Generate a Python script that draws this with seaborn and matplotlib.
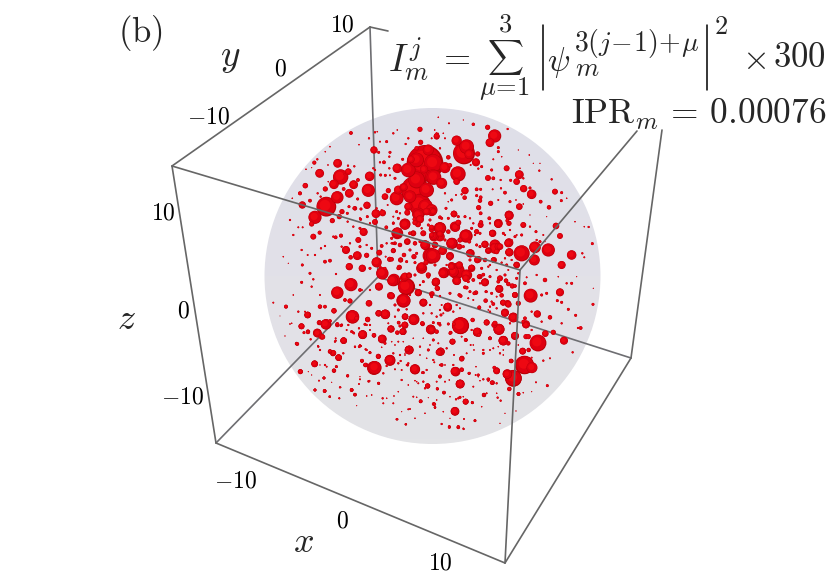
import numpy as np
import pandas as pd
import seaborn as sns
import matplotlib.pyplot as plt
from matplotlib.patches import Circle
from matplotlib.colors import LinearSegmentedColormap

# spheres, as (x, y, diameter) inside each crop, 3 units = 1 pixel
upper_left = [
    (273,99,10),(342,150,20),(163,188,11),(233,190,24),(179,220,24),(242,231,42),(265,215,18),(222,253,26),
    (136,257,15),(281,254,24),(329,229,26),(325,271,36),(268,280,24),(232,292,34),(120,280,11),(199,320,54),
    (127,315,20),(165,352,36),(155,372,14),(321,316,20),(285,325,12),(348,341,24),(368,339,18),(345,366,16),
    (311,396,22),(295,420,16),(258,450,22),(292,467,24),(160,410,16),(179,398,11),(227,412,10),(243,407,11),
    (350,487,28),(320,466,14),(358,458,16),(365,438,10),(412,400,32),(379,382,10),(435,374,28),(410,295,38),
    (375,290,18),(385,272,14),(412,205,26),(430,262,22),(442,425,14),(400,452,12),(389,478,14),(422,480,12),
    (268,500,20),(307,505,20),(485,500,24),(514,468,40),(497,436,26),(522,410,26),(515,382,14),(460,400,12),
    (474,373,16),(463,358,10),(495,190,100),(505,150,30),(453,178,20),(519,231,42),(470,145,12),(492,208,22),
    (465,270,76),(480,315,60),(445,320,22),(432,262,20),(497,320,40),(516,335,24),(475,345,30),(482,127,14),
    (480,88,14),(530,110,16),(345,97,6),(352,95,4),(297,134,4),(327,115,6),(380,125,8),(400,100,6),(412,90,4),
    (360,125,5),(390,157,8),(356,157,8),(345,210,6),(340,205,6),(360,187,6),(372,187,10),(388,170,6),(388,205,6),
    (362,225,8),(376,226,8),(390,226,5),(405,235,8),(428,178,8),(437,132,6),(445,115,6),(210,140,4),(196,155,4),
    (172,178,6),(138,208,4),(155,203,3),(204,195,4),(264,197,6),(283,199,6),(253,223,4),(294,240,10),(196,267,14),
    (251,267,10),(173,280,6),(182,290,6),(150,302,10),(97,295,4),(205,245,4),(293,297,8),(267,320,8),(283,325,10),
    (303,327,8),(322,350,8),(302,358,8),(262,340,8),(246,335,14),(238,350,14),(217,362,14),(90,360,6),(115,382,5),
    (128,382,5),(100,405,6),(220,410,6),(195,438,6),(183,445,6),(125,450,6),(165,465,6),(143,465,5),(210,482,10),
    (195,485,10),(127,495,8),(70,470,4),(85,490,3),(270,430,6),(245,440,6),(272,472,12),(300,440,8),(320,435,6),
    (335,445,8),(380,430,6),(400,430,8),(395,415,8),(377,470,5),(330,505,8),(415,505,10),(375,505,8),(360,500,8),
    (300,385,8),(330,370,6),(280,380,6),(300,355,6),(263,365,6),(383,315,5),(365,330,5),(420,340,6),(400,350,5),
    (350,325,6),(400,370,8),
    (470,240,46),(445,210,40),(520,190,50),(470,180,40),(500,270,40),(450,290,34),(415,270,24),
]
upper_right = [
    (194,108,36),(180,128,24),(173,82,14),(130,73,9),(233,87,6),(20,108,16),(80,122,28),(110,140,40),(102,160,60),
    (118,163,26),(143,162,14),(138,187,22),(55,172,12),(45,203,30),(60,196,12),(230,205,16),(268,224,24),(174,234,16),
    (84,222,42),(80,245,18),(12,232,40),(35,250,30),(105,272,20),(260,245,18),(281,266,20),(300,264,8),(305,283,26),
    (375,275,16),(395,278,8),(394,302,8),(332,305,10),(357,322,12),(268,320,18),(182,310,14),(146,323,14),(104,293,12),
    (150,302,12),(5,330,32),(72,342,18),(48,325,8),(238,347,24),(232,362,10),(205,372,22),(153,367,12),(280,375,16),
    (378,378,18),(390,408,16),(487,431,8),(476,381,6),(463,380,4),(425,465,26),(457,460,6),(463,472,5),(395,495,22),
    (355,450,36),(315,442,32),(275,460,44),(313,480,30),(260,495,16),(238,457,22),(235,430,22),(195,445,30),(205,440,20),
    (165,433,18),(175,452,14),(187,400,18),(108,408,34),(77,382,24),(30,385,32),(30,410,26),(67,430,30),(88,440,16),
    (122,460,22),(60,470,18),(10,468,40),(145,478,18),(190,480,14),(165,480,12),(65,497,20),(88,495,20),(125,503,16),
    (30,352,10),(5,405,14),(100,440,8),(150,440,8),(220,400,8),(255,410,8),(275,405,8),(300,380,6),(318,395,8),
    (330,425,8),(118,425,10),(135,405,6),(125,385,8),(205,143,8),(205,155,8),(215,170,4),(190,178,5),(155,200,8),
    (145,206,6),(122,195,5),(185,210,8),(190,235,10),(212,240,6),(242,241,8),(213,265,6),(225,278,10),(140,268,10),
    (152,268,8),(140,287,8),(152,292,10),(188,268,5),(205,300,5),(240,305,8),(258,300,4),(280,312,4),(65,300,8),
    (45,280,6),(95,283,6),(78,285,5),(55,305,4),(20,100,6),(25,52,4),(57,70,5),(45,115,5),(14,90,4),(5,115,5),
    (40,100,4),(30,145,6),(25,165,6),(298,165,4),(328,212,6),(365,238,6),(265,150,3),(310,190,3),(330,190,3),
    (280,235,6),(270,205,4),(435,365,4),(350,350,3),(410,295,4),(300,345,3),(340,405,5),(320,420,6),(345,425,3),
    (25,100,3),(100,60,3),(60,480,4),(180,495,6),(215,488,6),(245,420,5),(280,440,5),
]
lower_left = [
    (273,44,36),(232,68,34),(367,10,34),(398,32,30),(440,50,46),(432,92,36),(357,50,22),(392,77,20),(475,68,20),
    (491,98,20),(527,37,22),(435,20,22),(447,16,16),(327,100,18),(278,141,36),(376,133,26),(356,130,16),(461,150,28),
    (199,163,28),(143,135,18),(124,169,16),(173,190,22),(188,201,14),(144,185,12),(78,110,11),(180,110,12),(195,110,10),
    (222,122,14),(255,90,10),(270,93,14),(323,148,14),(308,194,24),(367,207,24),(342,196,12),(393,177,18),(430,185,18),
    (436,140,16),(435,165,18),(513,179,26),(487,160,12),(447,240,24),(390,271,28),(342,294,38),(465,298,28),(251,212,18),
    (236,263,18),(219,250,16),(210,243,10),(164,282,18),(112,222,10),(121,305,14),(355,259,14),(318,285,12),(306,272,10),
    (229,290,8),(222,302,12),(192,324,8),(177,332,5),(263,318,8),(165,360,8),(194,363,10),(240,352,6),(275,360,10),
    (285,374,10),(209,380,7),(238,385,5),(356,340,8),(326,334,7),(297,342,5),(368,385,6),(410,448,6),(438,463,6),
    (482,394,10),(522,402,10),(525,412,7),(503,348,14),(495,355,6),(537,247,18),(420,168,8),(415,120,8),(440,118,6),
    (405,105,8),(515,72,14),(298,230,8),(285,231,6),(320,240,6),(330,248,7),(227,212,6),(180,240,5),(174,228,5),
    (152,208,6),(232,162,10),(243,167,8),(180,158,10),(280,188,7),(265,165,6),(297,175,6),(300,60,10),(160,28,6),
    (155,50,6),(125,37,8),(180,75,5),(100,75,4),(40,98,5),(95,160,4),(60,138,2),(460,380,5),(470,382,4),(445,418,5),
    (505,383,3),(475,340,5),(440,285,5),(415,280,6),(425,300,5),(500,300,6),(487,308,7),(520,270,6),(505,240,8),
    (480,230,6),(520,210,8),(415,215,5),(400,250,6),(530,335,5),(470,335,4),(540,165,8),(540,120,6),(490,130,6),
    (505,20,10),(150,10,8),(228,12,6),(305,60,6),(330,60,6),(320,165,6),(395,215,4),(365,232,4),(435,250,3),
]
lower_right = [
    (92,167,46),(302,77,38),(390,67,22),(489,103,8),(345,30,12),(322,132,20),(360,142,12),(250,143,26),(225,128,22),
    (233,100,18),(219,98,16),(255,75,16),(208,56,20),(247,48,14),(229,32,10),(210,25,16),(165,37,20),(147,20,12),
    (160,14,10),(81,33,22),(108,25,20),(70,5,30),(40,10,26),(18,36,22),(22,55,14),(110,53,10),(53,112,24),(5,75,8),
    (88,75,10),(133,70,10),(168,65,8),(148,113,10),(170,157,16),(207,178,30),(193,165,16),(142,186,24),(147,195,10),
    (220,212,26),(235,220,12),(255,198,22),(295,200,14),(324,219,46),(346,191,18),(370,187,14),(402,212,22),(452,174,10),
    (444,174,6),(437,136,8),(288,165,18),(280,155,10),(278,243,18),(296,240,12),(285,285,50),(306,293,30),(250,325,46),
    (232,313,24),(200,303,18),(193,293,10),(243,273,12),(77,305,26),(95,299,12),(95,267,14),(32,245,22),(68,215,16),
    (108,210,10),(180,205,10),(5,180,20),(20,185,12),(62,188,10),(25,160,8),(91,342,24),(186,338,12),(175,328,10),
    (162,375,12),(107,395,16),(127,398,8),(75,424,24),(14,403,8),(15,412,6),(22,356,8),(42,368,10),(30,318,8),(58,330,4),
    (137,315,5),(117,310,8),(145,320,4),(125,180,6),(58,470,8),(85,470,8),(101,477,6),(135,452,8),(35,462,6),(265,372,10),
    (280,368,4),(203,383,6),(305,365,3),(352,347,8),(318,337,5),(305,263,5),(340,272,6),(360,265,5),(428,247,6),(395,160,6),
    (335,155,6),(305,125,6),(285,145,10),(305,180,6),(415,118,8),(395,97,8),(382,92,8),(425,40,8),(410,40,6),(490,55,3),
    (350,70,8),(335,75,8),(285,40,10),(320,15,6),(385,20,4),(440,20,3),(290,22,5),(200,115,6),(185,95,6),(175,120,4),
    (150,40,6),(130,90,5),(115,85,4),(90,115,5),(70,125,6),(40,130,5),(20,140,6),(5,130,6),(70,155,4),(160,240,6),
    (180,240,5),(130,225,4),(220,255,4),(205,230,4),(240,160,6),(220,240,4),(45,285,4),(30,285,6),(72,255,5),(130,350,5),
    (150,332,4),(200,340,6),(100,380,4),(60,380,4),(85,385,6),
]
centre = [
    (45,42,30),(22,68,28),(85,12,34),(110,5,20),(130,5,18),(90,28,22),(75,38,14),(52,8,16),(150,55,34),(125,58,16),
    (130,78,22),(150,72,18),(195,50,28),(205,38,16),(192,12,18),(228,78,36),(210,90,14),(185,100,30),(105,105,26),
    (135,105,18),(122,137,44),(158,122,24),(95,175,30),(108,158,14),(162,188,30),(200,183,44),(185,170,18),(230,195,30),
    (245,175,20),(180,138,22),(240,130,22),(262,150,18),(285,103,20),(315,105,30),(330,110,18),(295,122,18),(320,125,14),
    (357,98,24),(358,127,22),(380,165,18),(312,150,16),(285,217,22),(200,212,24),(138,215,22),(142,235,14),(12,210,34),
    (48,230,44),(42,204,22),(58,198,14),(85,248,18),(40,272,38),(100,278,22),(5,258,18),(174,290,22),(268,292,10),
    (328,237,22),(355,222,12),(348,212,12),(375,228,10),(375,255,16),(335,256,12),(340,278,16),(355,283,18),(385,280,14),
    (287,272,12),(310,282,10),(272,45,16),(308,70,20),(325,40,24),(357,15,24),(357,40,14),(298,25,10),(272,10,10),
    (10,122,14),(30,105,12),(15,100,10),(52,95,18),(70,70,16),(60,70,10),(100,70,16),(75,100,12),(72,140,14),(42,135,12),
    (32,150,14),(5,148,12),(80,130,8),(28,172,14),(50,155,8),(75,158,8),(115,195,14),(75,195,8),(135,165,8),(170,165,6),
    (240,150,8),(260,105,8),(270,110,6),(225,232,10),(240,245,8),(258,248,12),(212,258,10),(180,250,8),(150,258,6),
    (128,250,10),(125,260,8),(305,250,8),(290,245,6),(270,200,14),(250,210,10),(235,215,8),(325,215,10),(300,200,8),
    (275,175,8),(320,180,6),(345,195,8),(380,205,8),(385,190,6),(350,165,8),(365,150,6),(345,145,6),(295,170,6),(175,65,12),
    (225,20,8),(240,25,6),(205,20,8),(175,25,8),(155,25,8),(260,65,14),(270,70,8),(250,40,6),(165,90,8),(90,95,8),(115,45,8),
    (120,30,8),(95,55,6),(25,25,8),(10,38,6),(20,5,8),(10,70,6),(5,100,6),(60,120,8),(100,215,8),(90,225,6),(60,255,6),
    (120,285,6),(155,285,5),(200,285,6),(235,265,5),(355,180,5),(300,290,6),(320,260,5),(360,60,6),(380,75,5),(345,75,6),
    (300,40,6),
]
bottom_left = [
    (217,20,36),(137,43,28),(112,69,24),(83,15,18),(65,49,16),(125,80,16),(118,38,14),(150,33,10),(162,3,14),(172,45,12),
    (185,45,8),(84,67,10),(72,68,8),(50,101,10),(104,161,18),(62,185,12),(248,74,24),(191,92,18),(282,76,12),(306,87,22),
    (333,57,20),(352,68,12),(369,65,18),(375,46,18),(375,20,18),(356,38,10),(316,13,26),(296,10,18),(263,29,14),(255,43,8),
    (230,25,12),(345,20,6),(285,173,36),(330,151,30),(295,140,12),(256,165,12),(246,153,10),(176,143,18),(160,129,16),
    (150,125,12),(162,182,10),(170,170,6),(203,197,8),(132,204,8),(105,240,8),(134,243,10),(215,240,10),(225,254,8),
    (178,265,5),(150,260,5),(296,220,8),(352,328,6),(268,213,6),(240,208,5),(383,118,14),(383,165,8),(362,153,6),(310,190,6),
    (320,168,6),(270,128,8),(257,118,6),(243,108,6),(225,110,6),(165,95,6),(167,85,5),(120,120,6),(115,110,6),(85,185,3),
    (95,195,3),(135,165,6),(140,170,5),(190,130,6),(120,165,3),(215,65,8),(222,70,6),(315,100,8),(345,105,4),(325,40,5),
    (270,45,6),(270,60,5),(30,42,4),(55,5,6),(75,5,5),(200,60,5),(240,105,5),(340,280,5),(310,280,5),(275,255,4),(355,245,4),
    (385,225,4),(260,258,4),(182,232,4),(240,200,3),(360,135,6),(345,178,5),(320,265,4),(342,258,4),(155,217,3),(15,78,3),
    (230,287,3),
]
bottom_right = [
    (181,47,46),(42,28,30),(16,20,16),(14,45,18),(8,65,18),(92,58,26),(68,42,12),(28,120,24),(122,125,22),(45,178,26),
    (165,184,24),(180,222,24),(197,275,16),(165,304,22),(232,67,24),(260,38,16),(297,58,30),(285,40,14),(310,92,26),
    (345,77,20),(378,43,22),(340,22,26),(315,9,20),(378,80,14),(372,165,50),(341,205,44),(322,192,26),(290,182,18),
    (334,153,12),(368,124,18),(385,120,8),(186,145,14),(157,95,16),(218,30,12),(162,42,10),(123,15,8),(197,90,10),(270,85,10),
    (252,255,10),(186,180,10),(120,200,10),(83,228,14),(112,237,8),(132,247,8),(62,274,10),(100,282,8),(105,293,6),(217,278,8),
    (328,237,12),(356,252,10),(180,262,8),(168,268,6),(302,272,6),(148,352,8),(175,352,10),(17,343,6),(225,332,6),(192,327,5),
    (150,325,3),(30,297,5),(190,355,4),(300,340,3),(348,303,3),(265,212,6),(278,218,12),(250,208,6),(208,190,8),(235,195,8),
    (135,215,5),(25,160,6),(70,188,8),(5,210,6),(45,212,4),(70,215,6),(125,165,10),(103,157,5),(80,145,4),(60,135,4),(15,135,4),
    (90,105,4),(115,100,5),(140,115,6),(200,130,5),(250,130,8),(300,130,6),(280,115,5),(355,105,4),(185,80,5),(212,105,5),
    (225,75,4),(160,165,6),(10,95,4),(40,85,4),(70,85,4),(100,38,8),(120,40,6),(150,70,8),(145,42,8),(222,120,4),(325,100,6),
    (270,5,6),(228,170,4),(260,250,5),(290,250,4),(110,270,4),(75,310,4),(45,325,4),(130,305,4),(245,290,4),(315,310,3),(5,305,3),
]

# box edges in picture pixels
back_edges = [[(370,27),(378,277)], [(216,443),(378,277)], [(378,277),(631,358)]]
front_edges = [[(172,166),(370,27)], [(370,27),(388,31)], [(172,166),(520,270)], [(172,166),(216,443)],
               [(216,443),(505,563)], [(520,270),(505,563)], [(520,270),(637,131)], [(631,358),(662,130)],
               [(631,358),(505,563)]]

tick_text = ['$-10$', '$0$', '$10$', '$-10$', '$0$', '$10$', '$-10$', '$0$', '$10$']
tick_x = [235, 342, 440, 208, 280, 342, 182, 183, 163]
tick_y = [481, 520, 562, 117, 68, 25, 396, 310, 212]

frames = []
for pts, ox, oy in [(upper_left, 260, 100), (upper_right, 430, 100), (lower_left, 260, 270), (lower_right, 430, 270),
                    (centre, 390, 210), (bottom_left, 280, 310), (bottom_right, 400, 310)]:
    f = pd.DataFrame(pts, columns=['x', 'y', 'd'])
    f['x'] = ox + f['x'] / 3
    f['y'] = oy + f['y'] / 3
    f['d'] = f['d'] / 3 * 1.1
    frames.append(f)
spheres = pd.concat(frames, ignore_index=True)
spheres = spheres.sort_values('d', ascending=False).reset_index(drop=True)

# three stacked discs per sphere, so that they still read as shaded balls when they overlap
layers = []
for name, scale, shift in [('rim', 1.0, 0.0), ('body', 0.92, -0.015), ('glow', 0.55, -0.07)]:
    l = spheres.copy()
    l['x'] = l['x'] + shift * l['d']
    l['y'] = l['y'] + shift * l['d']
    l['d'] = l['d'] * scale
    l['layer'] = name
    l['rank'] = spheres.index
    layers.append(l)
balls = pd.concat(layers).sort_values('rank', kind='stable')

sns.set_theme(style='white')
plt.rcParams['mathtext.fontset'] = 'cm'
fig = plt.figure(figsize=(8.3, 5.87), dpi=100)
ax = fig.add_axes([0, 0, 1, 1])

# shaded sphere background
cmap = LinearSegmentedColormap.from_list('ball', ['#dfdfe9', '#e2e1e8', '#e3e3e6'])
im = ax.imshow(np.linspace(0, 1, 64).reshape(-1, 1), cmap=cmap, aspect='auto', extent=(264, 601, 444, 108), zorder=1)
disc = Circle((432.5, 276), 168, transform=ax.transData, fc='none', ec='none')
ax.add_patch(disc)
im.set_clip_path(disc)

for (a, b) in back_edges:
    ax.plot([a[0], b[0]], [a[1], b[1]], color='#6e6e72', lw=1.2, zorder=2)

sns.scatterplot(data=balls, x='x', y='y', hue='layer', palette={'rim': '#b80008', 'body': '#de0010', 'glow': '#ee0812'},
                s=(balls['d'].values * 72 / 100) ** 2, linewidth=0, legend=False, ax=ax, zorder=3)

for (a, b) in front_edges:
    ax.plot([a[0], b[0]], [a[1], b[1]], color='#666666', lw=1.2, zorder=4)

for t, x, y in zip(tick_text, tick_x, tick_y):
    ax.text(x, y, t, fontsize=17, ha='center', va='center', color='black', zorder=5)

ax.text(140, 33, r'$\mathrm{(b)}$', fontsize=25, ha='center', va='center', zorder=5)
ax.text(230, 57, r'$y$', fontsize=27, ha='center', va='center', zorder=5)
ax.text(126, 319, r'$z$', fontsize=26, ha='center', va='center', zorder=5)
ax.text(303, 542, r'$x$', fontsize=26, ha='center', va='center', zorder=5)

# formula set piece by piece so the sum and the superscript keep their size
ax.text(388, 60, r'$I_m^j$', fontsize=27, ha='left', va='center', zorder=6)
ax.text(454, 57, r'$=$', fontsize=25, ha='center', va='center', zorder=6)
ax.text(505, 57, r'$\sum$', fontsize=18, ha='center', va='center', zorder=6)
ax.text(505, 25, r'$3$', fontsize=19, ha='center', va='center', zorder=6)
ax.text(505, 88, r'$\mu\!=\!1$', fontsize=19, ha='center', va='center', zorder=6)
ax.plot([543, 543], [25, 90], color='black', lw=1.1, zorder=6)
ax.plot([707, 707], [25, 90], color='black', lw=1.1, zorder=6)
ax.text(559, 63, r'$\psi$', fontsize=24, ha='center', va='center', zorder=6)
ax.text(587, 69, r'$m$', fontsize=19, ha='center', va='center', zorder=6)
ax.text(637, 43, r'$3(j\!-\!1)\!+\!\mu$', fontsize=20, ha='center', va='center', zorder=6)
ax.text(721, 27, r'$2$', fontsize=19, ha='center', va='center', zorder=6)
ax.text(754, 59, r'$\times$', fontsize=25, ha='center', va='center', zorder=6)
ax.text(826, 57, r'$300$', fontsize=25, ha='right', va='center', zorder=6)
ax.text(826, 114, r'$\mathrm{IPR}_m\,=\,0.00076$', fontsize=25.5, ha='right', va='center', zorder=6)

ax.set_xlim(0, 830)
ax.set_ylim(587, 0)
ax.axis('off')

fig.savefig('out.png', dpi=100, facecolor='white')
